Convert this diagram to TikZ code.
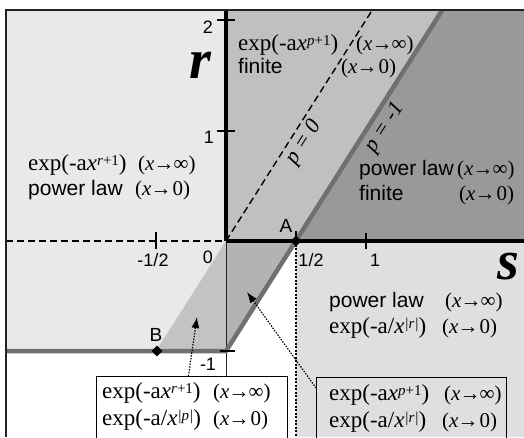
\documentclass[tikz,border=0pt]{standalone}
\usepackage{fontspec}
\setmainfont{Liberation Sans}
\newfontfamily\tm{Liberation Serif}
\usetikzlibrary{arrows.meta,shapes.geometric}
\newcommand{\fsz}[1]{\fontsize{#1}{#1}\selectfont}
\newcommand{\expp}[1]{{\tm\fsz{23}exp(-a\textit{x}\raisebox{5pt}{\fsz{15}#1})}}
\newcommand{\expq}[1]{{\tm\fsz{23}exp(-a/\textit{x}\raisebox{5pt}{\fsz{15}\textit{|#1|}})}}
\newcommand{\xinf}{{\tm\fsz{21}(\textit{x}\kern-1pt→\kern-1pt∞)}}
\newcommand{\xnull}{{\tm\fsz{21}(\textit{x}\kern-1pt→\kern1pt0)}}
\definecolor{lightL}{HTML}{E9E9E9}
\definecolor{lightR}{HTML}{DFDFDF}
\definecolor{midU}{HTML}{C0C0C0}
\definecolor{midL}{HTML}{C3C3C3}
\definecolor{midD}{HTML}{B3B3B3}
\definecolor{darkR}{HTML}{999999}
\definecolor{gline}{HTML}{707070}
\definecolor{framec}{HTML}{222222}
\tikzset{
  txt/.style={anchor=base west, inner sep=0pt},
  num/.style={font=\fsz{18}, inner sep=0pt},
  axis/.style={line width=3.5pt, black},
  tick/.style={line width=1.3pt, black},
  dashln/.style={line width=1.4pt, dash pattern=on 7pt off 4pt},
  gthick/.style={line width=4.5pt, gline},
  boxst/.style={draw=black, line width=0.9pt, inner sep=0pt},
  darr/.style={line width=1.2pt, dash pattern=on 1.4pt off 1.4pt, -{Latex[length=11pt,width=8pt]}},
  pnt/.style={diamond, fill=black, minimum size=11pt, inner sep=0pt},
  biglbl/.style={font=\tm\fsz{56}\bfseries\itshape, anchor=base, inner sep=0pt},
  rotlbl/.style={font=\tm\fsz{22}\itshape, inner sep=0pt, rotate=57.5}
}
\begin{document}
\begin{tikzpicture}[x=1pt,y=-1pt]
\useasboundingbox (0,0) rectangle (524,437);
\begin{scope}
\clip (0,0) rectangle (524,437);
\coordinate (O) at (226,241);
\coordinate (Cm) at (226,351);
\coordinate (Bp) at (156,351);
\coordinate (Ap) at (296,241);
\coordinate (P0top) at (372.3,10);
\coordinate (P1top) at (442.3,10);
\coordinate (Ltop) at (226,10);
\coordinate (Lleft) at (6,351);
\coordinate (Obot) at (226,437);
\coordinate (Abot) at (296,437);
\coordinate (Sleft) at (6,241);
\coordinate (Sright) at (524,241);
% regions
\fill[lightL] (6,10) rectangle (226,351);
\fill[midL] (O) -- (Bp) -- (Cm) -- cycle;
\fill[darkR] (226,10) rectangle (524,241);
\fill[midU] (O) -- (Ltop) -- (P1top) -- (Ap) -- cycle;
\fill[midD] (O) -- (Ap) -- (Cm) -- cycle;
\fill[lightR] (296,241) rectangle (524,437);
% lines
\draw[line width=0.8pt, framec] (O) -- (Obot);
\draw[dashln] (Sleft) -- (O);
\draw[dashln] (O) -- (P0top);
\draw[gthick] (Lleft) -- (Cm) -- (P1top);
\draw[axis] (O) -- (Sright);
\draw[axis] (O) -- (Ltop);
% ticks
\draw[tick] (217,20) -- (235,20);
\draw[tick] (217,131) -- (235,131);
\draw[tick] (220,351) -- (235,351);
\draw[tick] (156,232) -- (156,249);
\draw[tick] (366,233) -- (366,249);
\draw[tick] (296,231) -- (296,241);
% points
\node[pnt] (A) at (Ap) {};
\node[pnt] (B) at (157,351) {};
\draw[line width=2.6pt, dash pattern=on 2pt off 1.5pt] (A.center) -- (Abot);
% frame
\draw[line width=2.2pt, framec] (6,437) -- (6,10) -- (524,10);
% axis labels
\node[num] (n2) at (208,27) {2};
\node[num] (n1) at (209,137) {1};
\node[num] (n0) at (208,257) {0};
\node[num] (nmh) at (153,260) {-1/2};
\node[num] (nh) at (311,260) {1/2};
\node[num] (n1s) at (375,260) {1};
\node[num] (nm1) at (208,364) {-1};
\node[num, font=\fsz{19}] (lA) at (286,226) {A};
\node[num, font=\fsz{19}] (lB) at (156,335) {B};
\node[biglbl] (rlab) at (200,78) {r};
\node[biglbl] (slab) at (508,279) {s};
% rotated labels
\node[rotlbl] (p0) at (304,143) {p = 0};
\node[rotlbl] (p1) at (385,128) {p = -1};
% region texts
\node[txt] (L1a) at (28,170) {\expp{\textit{r}+1}};
\node[txt] (L1b) at (138,170) {\xinf};
\node[txt, font=\fsz{21}] (L2a) at (28,195) {power law};
\node[txt] (L2b) at (135,195) {\xnull};
\node[txt] (U1a) at (238,50) {\expp{\textit{p}+1}};
\node[txt] (U1b) at (356,50) {\xinf};
\node[txt, font=\fsz{21}] (U2a) at (238,73) {finite};
\node[txt] (U2b) at (341,73) {\xnull};
\node[txt, font=\fsz{21}] (R1a) at (359,175) {power law};
\node[txt] (R1b) at (457,175) {\xinf};
\node[txt, font=\fsz{21}] (R2a) at (359,200) {finite};
\node[txt] (R2b) at (459,200) {\xnull};
\node[txt, font=\fsz{21}] (D1a) at (329,307) {power law};
\node[txt] (D1b) at (445,307) {\xinf};
\node[txt] (D2a) at (329,333) {\expq{\textit{r}}};
\node[txt] (D2b) at (442,333) {\xnull};
% boxes
\node[boxst, fill=white, anchor=north west, minimum width=191pt, minimum height=80pt] (box1) at (96,376) {};
\node[boxst, anchor=north west, minimum width=190pt, minimum height=80pt] (box2) at (316,377) {};
\node[txt] (b1a) at (102,398) {\expp{\textit{r}+1}};
\node[txt] (b1b) at (213,398) {\xinf};
\node[txt] (b1c) at (102,425) {\expq{\textit{p}}};
\node[txt] (b1d) at (213,425) {\xnull};
\node[txt] (b2a) at (329,400) {\expp{\textit{p}+1}};
\node[txt] (b2b) at (444,400) {\xinf};
\node[txt] (b2c) at (329,427) {\expq{\textit{r}}};
\node[txt] (b2d) at (442,427) {\xnull};
% dotted arrows
\coordinate (tip1) at (197,317);
\coordinate (tip2) at (247,292);
\draw[darr] ([xshift=-3.5pt]box1.north) -- (tip1);
\draw[darr] ([yshift=-11pt]box2.north west) -- (tip2);
\end{scope}
\end{tikzpicture}
\end{document}
